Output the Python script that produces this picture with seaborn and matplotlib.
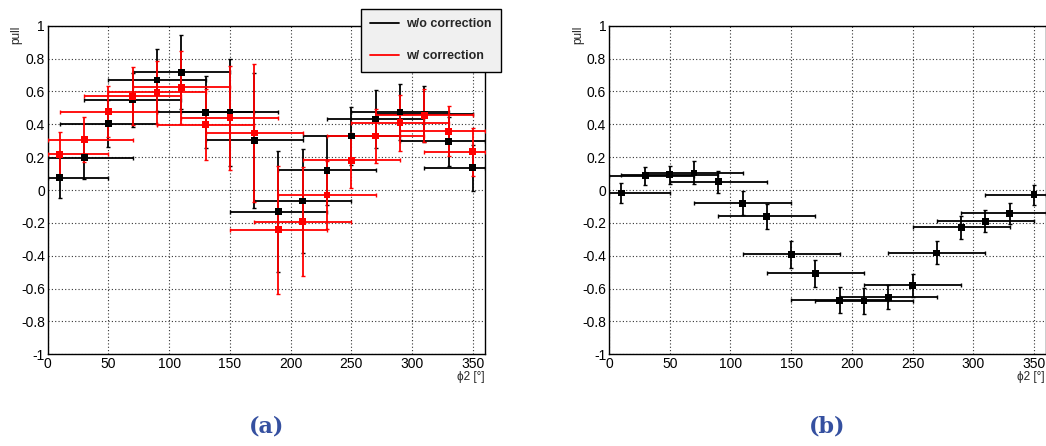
import numpy as np
import pandas as pd
import matplotlib
matplotlib.use("Agg")
import matplotlib.pyplot as plt
from matplotlib.ticker import MultipleLocator, FixedLocator
from matplotlib.lines import Line2D
import seaborn as sns

# ---------------- data ----------------
phi2 = [10, 30, 50, 70, 90, 110, 130, 150, 170, 190, 210, 230, 250, 270, 290, 310, 330, 350]
bin_half_width = 40

# (a) w/o correction
pull_wo = [0.075, 0.196, 0.404, 0.55, 0.67, 0.717, 0.473, 0.473, 0.303, -0.131, -0.067, 0.119,
           0.329, 0.432, 0.475, 0.46, 0.297, 0.135]
err_wo = [0.125, 0.127, 0.145, 0.165, 0.19, 0.225, 0.22, 0.325, 0.41, 0.367, 0.317, 0.208,
          0.176, 0.174, 0.172, 0.17, 0.148, 0.14]
# (a) w/ correction
pull_w = [0.218, 0.307, 0.477, 0.57, 0.594, 0.626, 0.398, 0.44, 0.347, -0.242, -0.192, -0.03,
          0.18, 0.329, 0.41, 0.455, 0.358, 0.232]
err_w = [0.133, 0.137, 0.155, 0.177, 0.19, 0.222, 0.217, 0.317, 0.42, 0.39, 0.33, 0.208,
         0.167, 0.167, 0.17, 0.16, 0.152, 0.146]
# (b)
pull_b = [-0.018, 0.088, 0.092, 0.104, 0.051, -0.08, -0.161, -0.391, -0.508, -0.671, -0.675,
          -0.652, -0.581, -0.383, -0.228, -0.19, -0.141, -0.029]
err_b = [0.06, 0.055, 0.057, 0.07, 0.067, 0.075, 0.077, 0.081, 0.081, 0.078, 0.08, 0.075,
         0.07, 0.07, 0.068, 0.067, 0.064, 0.062]

x_ticks = [0, 50, 100, 150, 200, 250, 300, 350]
y_ticks = [-1, -0.8, -0.6, -0.4, -0.2, 0, 0.2, 0.4, 0.6, 0.8, 1]
y_tick_labels = ["-1", "-0.8", "-0.6", "-0.4", "-0.2", "0", "0.2", "0.4", "0.6", "0.8", "1"]
legend_labels = ["w/o correction", "w/ correction"]
panel_labels = ["(a)", "(b)"]
x_title = "\u03d52 [\u00b0]"
y_title = "pull"

df_a = pd.DataFrame({"phi2": phi2 * 2,
                     "pull": pull_wo + pull_w,
                     "err": err_wo + err_w,
                     "series": [legend_labels[0]] * len(phi2) + [legend_labels[1]] * len(phi2)})
df_b = pd.DataFrame({"phi2": phi2, "pull": pull_b, "err": err_b})

# ---------------- style ----------------
sns.set_style("white")
plt.rcParams["font.family"] = ["Liberation Sans", "DejaVu Sans"]

W, H = 1046, 446
fig = plt.figure(figsize=(W / 100, H / 100), dpi=100)

def px_axes(x0, x1, ytop, ybot):
    return fig.add_axes([x0 / W, 1 - ybot / H, (x1 - x0) / W, (ybot - ytop) / H])

axA = px_axes(47.7, 485.0, 25.7, 354.3)
axB = px_axes(609.0, 1046.2, 25.7, 354.3)

XMIN, XMAX = 0, 360
palette = {legend_labels[0]: "black", legend_labels[1]: "#ff0000"}


def draw_series(ax, sub, color):
    x = sub["phi2"].to_numpy(dtype=float)
    xlo = np.minimum(bin_half_width, x - XMIN)
    xhi = np.minimum(bin_half_width, XMAX - x)
    ax.errorbar(x, sub["pull"], yerr=sub["err"], xerr=[xlo, xhi], fmt="none",
                ecolor=color, elinewidth=1.3, capsize=1.6, capthick=1.0, zorder=3)


def style_axes(ax):
    ax.set_xlim(XMIN, XMAX)
    ax.set_ylim(-1, 1)
    ax.xaxis.set_major_locator(FixedLocator(x_ticks))
    ax.xaxis.set_minor_locator(MultipleLocator(10))
    ax.yaxis.set_major_locator(FixedLocator(y_ticks))
    ax.set_yticklabels(y_tick_labels)
    ax.yaxis.set_minor_locator(MultipleLocator(0.04))
    ax.tick_params(axis="both", which="both", direction="in", top=False, right=False,
                   labelsize=10, colors="black", pad=2)
    ax.tick_params(axis="x", which="major", length=6.5, width=1.0)
    ax.tick_params(axis="x", which="minor", length=3.3, width=0.9)
    ax.tick_params(axis="y", which="major", length=8, width=1.0)
    ax.tick_params(axis="y", which="minor", length=4, width=0.9)
    ax.grid(True, which="major", color="#333333", linestyle=(0, (1, 2)), linewidth=0.8)
    for s in ax.spines.values():
        s.set_color("black")
        s.set_linewidth(1.0)
    ax.set_xlabel("")
    ax.set_ylabel("")
    ax.set_axisbelow(True)
    ax.set_facecolor("white")


# panel (a)
for lab in legend_labels:
    sub = df_a[df_a["series"] == lab]
    draw_series(axA, sub, palette[lab])
    sns.scatterplot(data=sub, x="phi2", y="pull", ax=axA, color=palette[lab], marker="s",
                    s=24, edgecolor="none", legend=False, zorder=4)
style_axes(axA)

# panel (b)
draw_series(axB, df_b, "black")
sns.scatterplot(data=df_b, x="phi2", y="pull", ax=axB, color="black", marker="s",
                s=24, edgecolor="none", legend=False, zorder=4)
style_axes(axB)

# axis titles (ROOT style: at the ends of the axes)
for ax_x0, ax_x1 in [(47.7, 485.0), (609.0, 1046.0)]:
    fig.text((ax_x0 - 31) / W, 1 - 26 / H, y_title, rotation=90, ha="center", va="top",
             fontsize=8.5)
    fig.text(min(ax_x1, 1045) / W, 1 - 377 / H, x_title, ha="right", va="center",
             fontsize=8.5, family=["Liberation Sans", "DejaVu Sans"])

# legend
handles = [Line2D([], [], color=palette[l], lw=1.3) for l in legend_labels]
leg = fig.legend(handles, legend_labels, loc="upper left",
                 bbox_to_anchor=(361 / W, 1 - 9 / H), bbox_transform=fig.transFigure,
                 borderaxespad=0, frameon=True, fancybox=False,
                 prop={"weight": "bold", "size": 9}, handlelength=2.3, handletextpad=0.55,
                 labelspacing=1.6, borderpad=0.75)
leg.get_frame().set_facecolor("#f0f0f0")
leg.get_frame().set_edgecolor("black")
leg.get_frame().set_linewidth(1.0)
leg.get_frame().set_alpha(1)

# panel labels
for cx, lab in zip([(47.7 + 485.0) / 2, (609.0 + 1046.0) / 2], panel_labels):
    fig.text(cx / W, 1 - 427 / H, lab, ha="center", va="center", fontsize=16,
             fontweight="bold", color="#3550a0", family=["DejaVu Serif"])

fig.savefig("out.png", dpi=100)
